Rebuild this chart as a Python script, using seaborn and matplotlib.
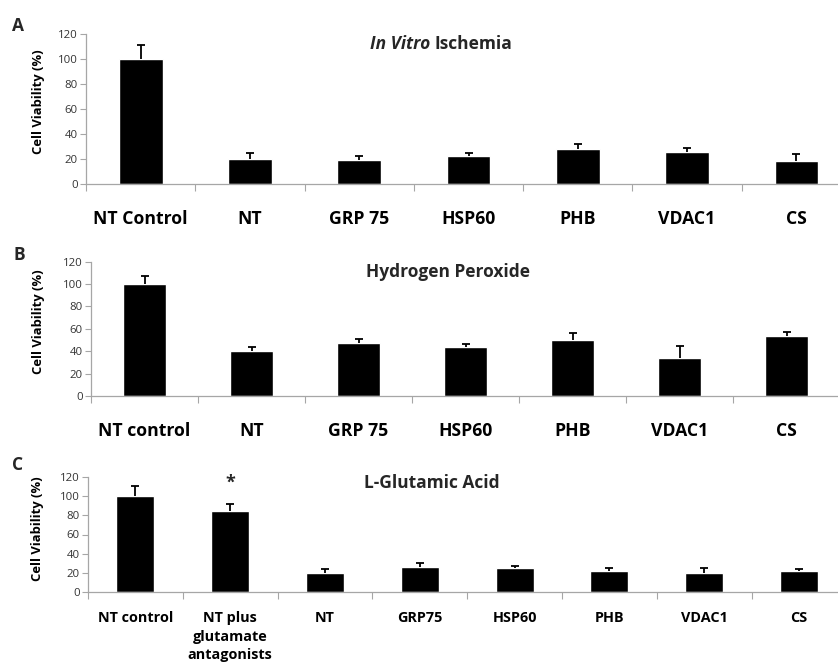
import matplotlib
matplotlib.use("Agg")
import matplotlib.pyplot as plt
import seaborn as sns
import pandas as pd
import numpy as np

sns.set_style("white")
plt.rcParams['font.family'] = ['Open Sans', 'DejaVu Sans']

# ---- Data ----
cats_a = ["NT Control", "NT", "GRP 75", "HSP60", "PHB", "VDAC1", "CS"]
vals_a = [100, 20, 19, 22.5, 28, 25.5, 18.5]
errs_a = [11, 5, 3.5, 2.5, 3.7, 3.7, 5.5]

cats_b = ["NT control", "NT", "GRP 75", "HSP60", "PHB", "VDAC1", "CS"]
vals_b = [100, 40, 47, 43.5, 50, 34, 53.5]
errs_b = [7, 4, 4, 3, 6, 10.5, 3.5]

cats_c = ["NT control", "NT plus\nglutamate\nantagonists", "NT", "GRP75",
          "HSP60", "PHB", "VDAC1", "CS"]
vals_c = [100, 84.5, 19.6, 26, 24.5, 22, 19.6, 22]
errs_c = [10.5, 7.5, 4, 3.8, 2.2, 2.5, 5, 2]

yticks = [0, 20, 40, 60, 80, 100, 120]

fig = plt.figure(figsize=(8.38, 6.63), dpi=100)
W, H = 838.0, 663.0

def make_axes(left, right, top, bottom):
    return fig.add_axes([left / W, 1 - bottom / H, (right - left) / W, (bottom - top) / H])

GRAY = "#a6a6a6"
TXT = "#333333"

def panel(ax, cats, vals, errs, title, title_xy, italic_part, letter, letter_xy,
          xfs, xpad, ylab_x, lsp=1.3):
    df = pd.DataFrame({"cat": cats, "val": vals})
    sns.barplot(data=df, x="cat", y="val", order=cats, color="black",
                width=0.40, ax=ax, saturation=1, errorbar=None)
    xs = [p.get_x() + p.get_width() / 2 for p in ax.patches]
    _, caps, _ = ax.errorbar(xs, vals, yerr=[np.zeros(len(errs)), errs], fmt="none",
                             ecolor="black", elinewidth=1.3, capsize=3.2, capthick=1.3)
    caps[0].set_visible(False)  # only the upper cap, like the original
    n = len(cats)
    ax.set_xlim(-0.5, n - 0.5)
    ax.set_ylim(0, 120)
    ax.set_yticks(yticks)
    ax.set_yticklabels([str(t) for t in yticks], fontsize=8.2, color=TXT)
    ax.tick_params(axis="y", length=4, width=0.8, color=GRAY, pad=2, left=True)
    ax.set_xticks(range(n))
    ax.set_xticklabels(cats, fontsize=xfs, fontweight="bold", color="black",
                       linespacing=lsp)
    ax.tick_params(axis="x", which="major", length=0, pad=xpad, bottom=False)
    ax.set_xticks(np.arange(-0.5, n, 1.0), minor=True)
    ax.tick_params(axis="x", which="minor", length=5, width=0.8, color=GRAY,
                   bottom=True, direction="out")
    for s in ["top", "right"]:
        ax.spines[s].set_visible(False)
    for s in ["left", "bottom"]:
        ax.spines[s].set_color(GRAY)
        ax.spines[s].set_linewidth(0.9)
    ax.set_xlabel("")
    ax.set_ylabel("Cell Viability (%)", fontsize=9.4, fontweight="bold", color="black")
    ax.yaxis.set_label_coords(ylab_x, 0.55)
    ax.set_facecolor("white")
    tfs = 12.5
    if italic_part:
        ax.text(title_xy[0], title_xy[1], italic_part + " ", transform=ax.transAxes,
                ha="right", va="center", fontsize=tfs, fontweight="bold", style="italic")
        ax.text(title_xy[0], title_xy[1], title, transform=ax.transAxes,
                ha="left", va="center", fontsize=tfs, fontweight="bold")
    else:
        ax.text(title_xy[0], title_xy[1], title, transform=ax.transAxes,
                ha="center", va="center", fontsize=tfs, fontweight="bold")
    fig.text(letter_xy[0] / W, 1 - letter_xy[1] / H, letter, fontsize=12.5,
             fontweight="bold", ha="center", va="center")
    return xs

axA = make_axes(86, 851, 34, 184)
panel(axA, cats_a, vals_a, errs_a, "Ischemia", (0.456, 0.933), "In Vitro", "A",
      (17.5, 26), 12.7, 19, -0.053)

axB = make_axes(91, 840, 261.7, 396)
panel(axB, cats_b, vals_b, errs_b, "Hydrogen Peroxide", (0.476, 0.923), None, "B",
      (19, 255), 12.7, 19, -0.061)

axC = make_axes(88, 846.4, 477.3, 591.7)
xsC = panel(axC, cats_c, vals_c, errs_c, "L-Glutamic Acid", (0.4536, 0.95), None, "C",
            (18, 465), 10.4, 14, -0.058, lsp=1.4)
star_y = [114]
axC.text(xsC[1], star_y[0], "*", ha="center", va="center", fontsize=13,
         fontweight="bold")

fig.savefig("out.png", dpi=100, facecolor="white")
